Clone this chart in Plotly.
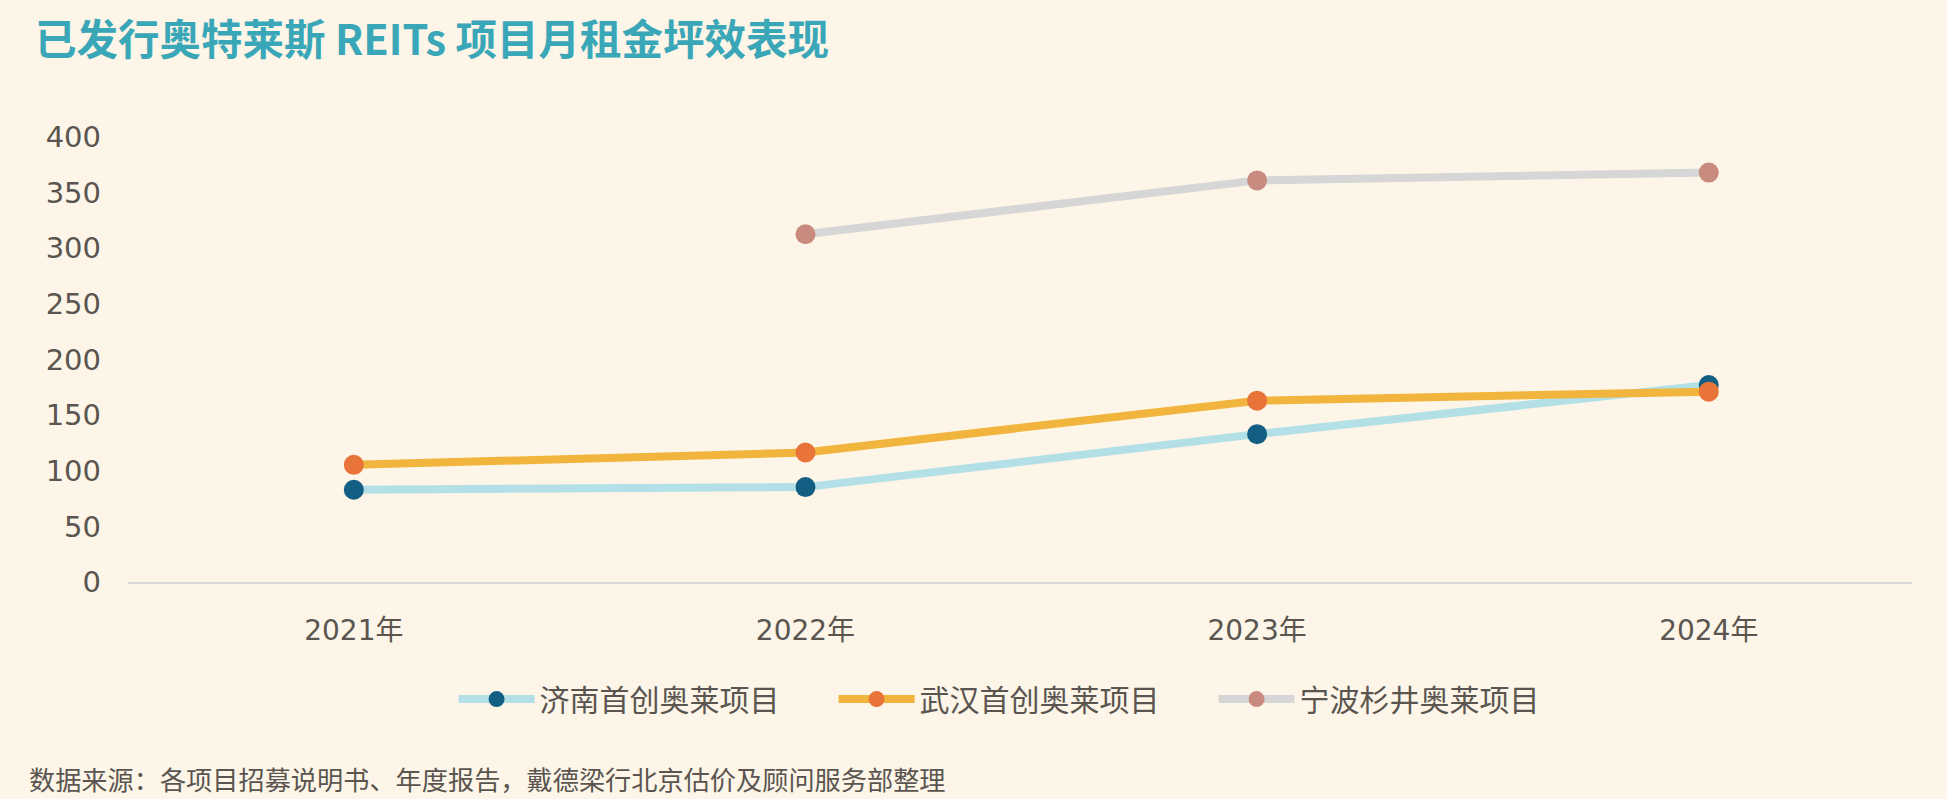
import plotly.graph_objects as go

years = ["2021年", "2022年", "2023年", "2024年"]
jinan = [82.9, 85.3, 132.9, 177.1]
wuhan = [105.3, 116.4, 163.0, 171.1]
ningbo = [None, 312.6, 361.0, 368.0]
series_names = ["济南首创奥莱项目", "武汉首创奥莱项目", "宁波杉井奥莱项目"]
y_ticks = [0, 50, 100, 150, 200, 250, 300, 350, 400]

title_text = "已发行奥特莱斯 REITs 项目月租金坪效表现"
source_text = "数据来源：各项目招募说明书、年度报告，戴德梁行北京估价及顾问服务部整理"

BG = "#fdf5e7"
TXT = "#5a5550"
FONT = "DejaVu Sans, Noto Sans CJK SC, sans-serif"
CJK = "Noto Sans CJK SC, sans-serif"

styles = [
    dict(line="#b3e0e6", marker="#135e83"),
    dict(line="#f1b43c", marker="#e9743a"),
    dict(line="#d6d6d6", marker="#c98b80"),
]

fig = go.Figure()
for name, vals, st in zip(series_names, [jinan, wuhan, ningbo], styles):
    fig.add_trace(go.Scatter(
        x=years, y=vals, name=name, mode="lines+markers",
        line=dict(color=st["line"], width=8),
        marker=dict(color=st["marker"], size=20),
        cliponaxis=False,
    ))

fig.update_layout(
    width=1947, height=799,
    paper_bgcolor=BG, plot_bgcolor=BG,
    margin=dict(l=128, r=35, t=137, b=217),
    showlegend=True,
    title=dict(
        text="<b>" + title_text + "</b>",
        font=dict(family=CJK, size=41.5, color="#3aa7b8"),
        xref="container", yref="container", x=35 / 1947, xanchor="left",
        y=1 - 40 / 799, yanchor="middle",
    ),
    legend=dict(
        orientation="h", x=0.502, xanchor="center", y=-0.263, yanchor="middle",
        font=dict(family=CJK, size=30, color=TXT),
        bgcolor="rgba(0,0,0,0)", itemwidth=76, itemsizing="trace",
        entrywidth=289, entrywidthmode="pixels",
    ),
    xaxis=dict(
        type="category", range=[-0.5, 3.45],
        showline=True, linecolor="#d9d9d9", linewidth=2,
        showgrid=False, zeroline=False, ticks="",
        tickfont=dict(family=FONT, size=28, color=TXT),
        ticklabelstandoff=22,
    ),
    yaxis=dict(
        range=[0, 400], tickvals=y_ticks,
        showline=False, showgrid=False, zeroline=False, ticks="",
        tickfont=dict(family=FONT, size=29, color=TXT),
        ticklabelstandoff=26,
    ),
    annotations=[dict(
        text=source_text, xref="paper", yref="paper",
        x=(27 - 128) / 1784, xanchor="left", y=-(779 - 582) / 445, yanchor="middle",
        showarrow=False, font=dict(family=CJK, size=26.2, color=TXT),
    )],
)

fig.write_html("out.html")
